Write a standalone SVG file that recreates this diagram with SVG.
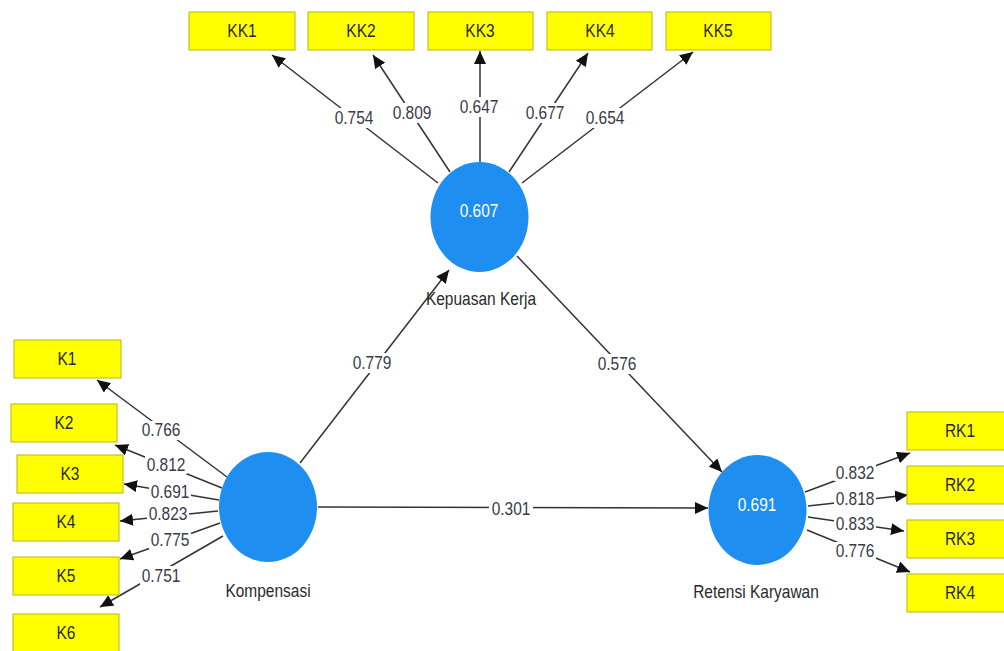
<svg xmlns="http://www.w3.org/2000/svg" width="1004" height="651" viewBox="0 0 1004 651">
<defs>
<style>
.box{fill:#ffff00;stroke:#b5b51a;stroke-width:1}
.lv{fill:#1e8ff0}
.t{font-family:"Liberation Sans",Arial,sans-serif;font-size:15.5px;text-anchor:middle;fill:#2a2a2a}
.v{font-family:"Liberation Sans",Arial,sans-serif;font-size:15.5px;text-anchor:middle;fill:#3a3a48}
.bg{fill:#ffffff}
.w{font-family:"Liberation Sans",Arial,sans-serif;font-size:15.5px;text-anchor:middle;fill:#ffffff}
.c{stroke:#333333;stroke-width:1.5;fill:none;marker-end:url(#ah)}
</style>
<marker id="ah" markerUnits="userSpaceOnUse" markerWidth="14" markerHeight="12" refX="13" refY="6" orient="auto">
<path d="M0,0 L13,6 L0,12 z" fill="#111111"/>
</marker>
</defs>
<rect width="1004" height="651" fill="#ffffff"/>
<g id="connectors">
<line class="c" x1="438" y1="183" x2="272" y2="55"/>
<line class="c" x1="450" y1="172" x2="373" y2="55"/>
<line class="c" x1="480" y1="162" x2="480" y2="51"/>
<line class="c" x1="509" y1="172" x2="588" y2="53"/>
<line class="c" x1="522" y1="183" x2="693" y2="52"/>
<line class="c" x1="227" y1="477" x2="97" y2="380"/>
<line class="c" x1="222" y1="488" x2="115" y2="445"/>
<line class="c" x1="219" y1="500" x2="124" y2="484"/>
<line class="c" x1="218" y1="511" x2="120" y2="521"/>
<line class="c" x1="220" y1="523" x2="120" y2="559"/>
<line class="c" x1="223" y1="536" x2="100" y2="607"/>
<line class="c" x1="805" y1="492" x2="910" y2="453"/>
<line class="c" x1="808" y1="506" x2="908" y2="495"/>
<line class="c" x1="808" y1="517" x2="904" y2="531"/>
<line class="c" x1="807" y1="530" x2="910" y2="572"/>
<line class="c" x1="300" y1="463" x2="449" y2="270"/>
<line class="c" x1="517" y1="256" x2="722" y2="472"/>
<line class="c" x1="318" y1="507" x2="708" y2="508"/>
<rect class="bg" x="333" y="108" width="42" height="20"/>
<rect class="bg" x="391" y="103" width="42" height="20"/>
<rect class="bg" x="458" y="97" width="42" height="20"/>
<rect class="bg" x="524" y="103" width="42" height="20"/>
<rect class="bg" x="584" y="108" width="42" height="20"/>
<rect class="bg" x="140" y="421" width="42" height="19"/>
<rect class="bg" x="145" y="456" width="42" height="18"/>
<rect class="bg" x="149" y="484" width="42" height="16"/>
<rect class="bg" x="147" y="506" width="42" height="16"/>
<rect class="bg" x="149" y="531" width="42" height="18"/>
<rect class="bg" x="140" y="566" width="42" height="20"/>
<rect class="bg" x="834" y="464" width="42" height="17"/>
<rect class="bg" x="834" y="491" width="42" height="16"/>
<rect class="bg" x="834" y="516" width="42" height="16"/>
<rect class="bg" x="834" y="542" width="42" height="18"/>
<rect class="bg" x="351" y="353" width="42" height="20"/>
<rect class="bg" x="596" y="354" width="42" height="20"/>
<rect class="bg" x="489" y="500" width="44" height="18"/>
<text class="v" transform="matrix(1,0,0,1.15,354,124)">0.754</text>
<text class="v" transform="matrix(1,0,0,1.15,412,119)">0.809</text>
<text class="v" transform="matrix(1,0,0,1.15,479,113)">0.647</text>
<text class="v" transform="matrix(1,0,0,1.15,545,119)">0.677</text>
<text class="v" transform="matrix(1,0,0,1.15,605,124)">0.654</text>
<text class="v" transform="matrix(1,0,0,1.15,161,436)">0.766</text>
<text class="v" transform="matrix(1,0,0,1.15,166,471)">0.812</text>
<text class="v" transform="matrix(1,0,0,1.15,170,498)">0.691</text>
<text class="v" transform="matrix(1,0,0,1.15,168,520)">0.823</text>
<text class="v" transform="matrix(1,0,0,1.15,170,546)">0.775</text>
<text class="v" transform="matrix(1,0,0,1.15,161,582)">0.751</text>
<text class="v" transform="matrix(1,0,0,1.15,855,479)">0.832</text>
<text class="v" transform="matrix(1,0,0,1.15,855,505)">0.818</text>
<text class="v" transform="matrix(1,0,0,1.15,855,530)">0.833</text>
<text class="v" transform="matrix(1,0,0,1.15,855,557)">0.776</text>
<text class="v" transform="matrix(1,0,0,1.15,372,369)">0.779</text>
<text class="v" transform="matrix(1,0,0,1.15,617,370)">0.576</text>
<text class="v" transform="matrix(1,0,0,1.15,511,515)">0.301</text>
</g>
<g id="KK1"><rect class="box" x="189" y="12" width="106" height="38"/><text class="t" transform="matrix(1,0,0,1.15,242,37)">KK1</text></g>
<g id="KK2"><rect class="box" x="308" y="12" width="106" height="38"/><text class="t" transform="matrix(1,0,0,1.15,361,37)">KK2</text></g>
<g id="KK3"><rect class="box" x="428" y="12" width="105" height="38"/><text class="t" transform="matrix(1,0,0,1.15,480,37)">KK3</text></g>
<g id="KK4"><rect class="box" x="547" y="12" width="105" height="38"/><text class="t" transform="matrix(1,0,0,1.15,600,37)">KK4</text></g>
<g id="KK5"><rect class="box" x="666" y="12" width="105" height="38"/><text class="t" transform="matrix(1,0,0,1.15,718,37)">KK5</text></g>
<g id="K1"><rect class="box" x="14" y="340" width="107" height="38"/><text class="t" transform="matrix(1,0,0,1.15,67,365)">K1</text></g>
<g id="K2"><rect class="box" x="11" y="404" width="106" height="38"/><text class="t" transform="matrix(1,0,0,1.15,64,429)">K2</text></g>
<g id="K3"><rect class="box" x="17" y="455" width="106" height="38"/><text class="t" transform="matrix(1,0,0,1.15,70,480)">K3</text></g>
<g id="K4"><rect class="box" x="13" y="503" width="106" height="38"/><text class="t" transform="matrix(1,0,0,1.15,66,528)">K4</text></g>
<g id="K5"><rect class="box" x="13" y="557" width="106" height="38"/><text class="t" transform="matrix(1,0,0,1.15,66,582)">K5</text></g>
<g id="K6"><rect class="box" x="13" y="614" width="106" height="38"/><text class="t" transform="matrix(1,0,0,1.15,66,639)">K6</text></g>
<g id="RK1"><rect class="box" x="907" y="412" width="106" height="38"/><text class="t" transform="matrix(1,0,0,1.15,960,437)">RK1</text></g>
<g id="RK2"><rect class="box" x="907" y="466" width="106" height="38"/><text class="t" transform="matrix(1,0,0,1.15,960,491)">RK2</text></g>
<g id="RK3"><rect class="box" x="907" y="520" width="106" height="38"/><text class="t" transform="matrix(1,0,0,1.15,960,545)">RK3</text></g>
<g id="RK4"><rect class="box" x="907" y="574" width="106" height="38"/><text class="t" transform="matrix(1,0,0,1.15,960,599)">RK4</text></g>
<g id="KepuasanKerja"><ellipse class="lv" cx="479.5" cy="217" rx="49" ry="55"/><text class="w" transform="matrix(1,0,0,1.15,479,217)">0.607</text><text class="t" transform="matrix(1,0,0,1.15,481,305)">Kepuasan Kerja</text></g>
<g id="Kompensasi"><ellipse class="lv" cx="268" cy="507" rx="49" ry="55"/><text class="t" transform="matrix(1,0,0,1.15,268,597)">Kompensasi</text></g>
<g id="RetensiKaryawan"><ellipse class="lv" cx="757.5" cy="510" rx="49" ry="55"/><text class="w" transform="matrix(1,0,0,1.15,757,511)">0.691</text><text class="t" transform="matrix(1,0,0,1.15,756,598)">Retensi Karyawan</text></g>
</svg>
